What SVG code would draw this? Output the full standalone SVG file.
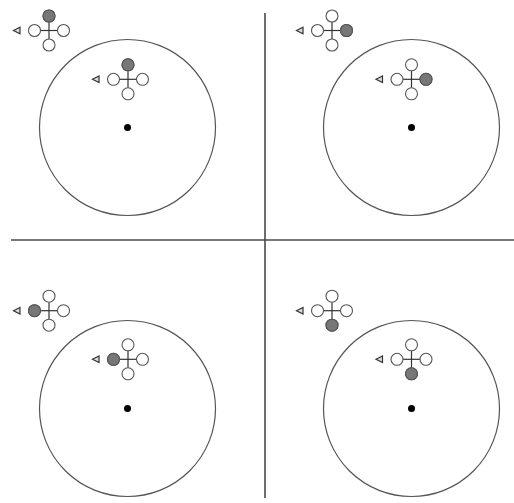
<svg xmlns="http://www.w3.org/2000/svg" xmlns:xlink="http://www.w3.org/1999/xlink" width="514" height="503" viewBox="0 0 514 503">
<style>
.frame{stroke:#4a4a4a;stroke-width:1.6;fill:none}
.arena{stroke:#555;stroke-width:1.2;fill:none}
.center{fill:#000}
.rotor{fill:#fff;stroke:#555;stroke-width:1.1}
.on{fill:#777;stroke:#555;stroke-width:1.1}
.arm{stroke:#333;stroke-width:1.2}
.nose{fill:#ddd;stroke:#333;stroke-width:1.2}
</style>
<defs>
<g id="quad">
<line class="arm" x1="-8.5" y1="0" x2="8.5" y2="0"/>
<line class="arm" x1="0" y1="-8.5" x2="0" y2="8.5"/>
<circle class="rotor" cx="0" cy="-14.5" r="6"/>
<circle class="rotor" cx="14.5" cy="0" r="6"/>
<circle class="rotor" cx="0" cy="14.5" r="6"/>
<circle class="rotor" cx="-14.5" cy="0" r="6"/>
<path class="nose" d="M-35.5,0 L-29,-3.3 L-29,3.3 Z"/>
</g>
</defs>
<g id="connectors">
<line class="frame" x1="265" y1="13" x2="265" y2="498"/>
<line class="frame" x1="11" y1="240" x2="514" y2="240"/>
</g>
<g id="panel-tl">
<circle class="arena" cx="127.5" cy="127.5" r="88"/>
<circle class="center" cx="127.5" cy="127.5" r="3.5"/>
<g id="quad-tl-outer"><use xlink:href="#quad" x="49" y="30.5"/><circle class="on" cx="49" cy="16" r="6"/></g>
<g id="quad-tl-inner"><use xlink:href="#quad" x="128" y="79.3"/><circle class="on" cx="128" cy="64.8" r="6"/></g>
</g>
<g id="panel-tr">
<circle class="arena" cx="411.5" cy="127.5" r="88"/>
<circle class="center" cx="411.5" cy="127.5" r="3.5"/>
<g id="quad-tr-outer"><use xlink:href="#quad" x="332" y="30.5"/><circle class="on" cx="346.5" cy="30.5" r="6"/></g>
<g id="quad-tr-inner"><use xlink:href="#quad" x="411.5" y="79.3"/><circle class="on" cx="426" cy="79.3" r="6"/></g>
</g>
<g id="panel-bl">
<circle class="arena" cx="127.5" cy="408.5" r="88"/>
<circle class="center" cx="127.5" cy="408.5" r="3.5"/>
<g id="quad-bl-outer"><use xlink:href="#quad" x="49" y="310.7"/><circle class="on" cx="34.5" cy="310.7" r="6"/></g>
<g id="quad-bl-inner"><use xlink:href="#quad" x="128" y="359.3"/><circle class="on" cx="113.5" cy="359.3" r="6"/></g>
</g>
<g id="panel-br">
<circle class="arena" cx="411.5" cy="408.5" r="88"/>
<circle class="center" cx="411.5" cy="408.5" r="3.5"/>
<g id="quad-br-outer"><use xlink:href="#quad" x="332" y="310.7"/><circle class="on" cx="332" cy="325.2" r="6"/></g>
<g id="quad-br-inner"><use xlink:href="#quad" x="411.5" y="359.3"/><circle class="on" cx="411.5" cy="373.8" r="6"/></g>
</g>
</svg>
